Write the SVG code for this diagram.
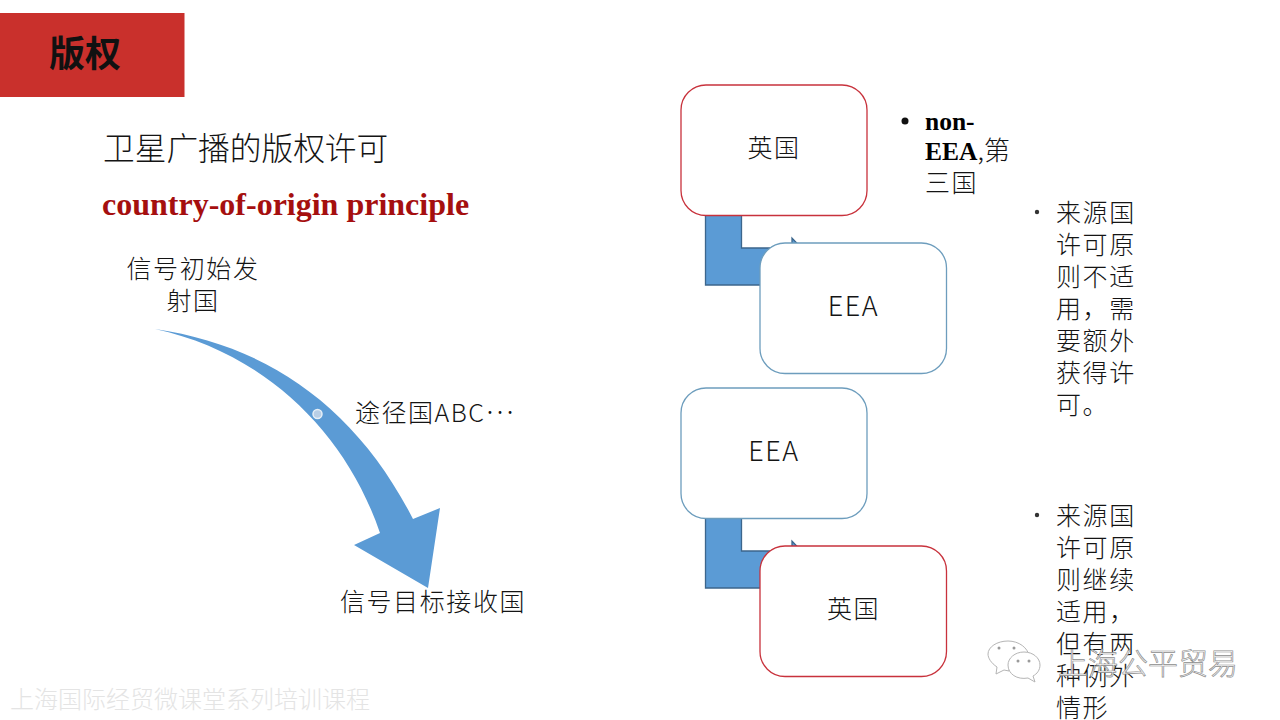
<svg xmlns="http://www.w3.org/2000/svg" width="1280" height="720" viewBox="0 0 1280 720">
  <style>
    text { font-family: "Noto Sans CJK SC", "Noto Sans", sans-serif; fill: #141414; font-weight: 300; }
    .body { font-size: 25px; letter-spacing: 1.6px; }
    .label { font-size: 25px; text-anchor: middle; letter-spacing: 1.6px; }
    .eea { font-size: 27px; }
    .serif { font-family: "Liberation Serif", "Noto Sans CJK SC", serif; font-weight: 700; fill: #000; }
    .box { fill: #fff; stroke-width: 1.3; }
    .red { stroke: #c8323c; }
    .blue { stroke: #6d9dbd; }
    .bent { fill: #5b9bd5; stroke: #3c668c; stroke-width: 1.3; }
    .mark { font-size: 30px; fill: #fff; stroke: #8c8c8c; stroke-width: .7; }
  </style>

  <!-- heading band -->
  <g id="heading">
    <rect x="0" y="13" width="184.500" height="84" fill="#c9302c"/>
    <text x="49" y="67" font-size="36" style="font-weight:700;fill:#111">版权</text>
  </g>

  <g id="intro">
    <text x="103" y="160" font-size="31.700">卫星广播的版权许可</text>
    <text x="102" y="215" font-size="32" class="serif" style="fill:#a50f0f">country-of-origin principle</text>
  </g>

  <!-- signal path, left side -->
  <g id="connectors">
    <path id="signal-arrow" fill="#5b9bd5" d="M155,329 C265,345 355,405 413,519 L440,508 L428,588 L354,545 L380,533 C345,430 262,352 155,329 Z"/>
    <circle cx="317.500" cy="414" r="4.500" fill="#b9cfe6" stroke="#e6eff7" stroke-width="1.500"/>
    <path id="bent-upper" class="bent" d="M705.500,215 H741.500 V248 H792 V238 L815,262 L792,285 H705.500 Z"/>
    <path id="bent-lower" class="bent" d="M705.500,518 H741.500 V551 H792 V541 L815,565 L792,588 H705.500 Z"/>
  </g>

  <g id="origin">
    <text x="193" y="278" class="label">信号初始发</text>
    <text x="193" y="310" class="label">射国</text>
  </g>
  <g id="transit"><text x="355" y="422" class="body" style="letter-spacing:1.5px">途径国ABC<tspan dy="-8" font-size="27">…</tspan></text></g>
  <g id="target"><text x="433" y="611" class="label">信号目标接收国</text></g>

  <g id="node-uk-top">
    <rect class="box red" x="681" y="85" width="186" height="130.500" rx="25"/>
    <text x="774" y="157" class="label">英国</text>
  </g>
  <g id="node-eea-top">
    <rect class="box blue" x="760" y="243" width="186.500" height="130.500" rx="25"/>
    <text x="853.500" y="316" class="label eea">EEA</text>
  </g>
  <g id="node-eea-bottom">
    <rect class="box blue" x="681" y="388" width="186" height="130.500" rx="25"/>
    <text x="774" y="461" class="label eea">EEA</text>
  </g>
  <g id="node-uk-bottom">
    <rect class="box red" x="760" y="546" width="186.500" height="130.500" rx="25"/>
    <text x="853.500" y="618" class="label">英国</text>
  </g>

  <!-- notes beside the boxes -->
  <g id="note-third-country">
    <circle cx="905" cy="121" r="3.500" fill="#111"/>
    <text x="925" y="130" font-size="25.500" class="serif">non-</text>
    <text x="925" y="160" font-size="25.500" class="serif">EEA<tspan style="font-family:'Noto Sans CJK SC',sans-serif;font-weight:300;fill:#141414" font-size="26">,第</tspan></text>
    <text x="925" y="192" class="body">三国</text>
  </g>
  <g id="note-not-applicable">
    <circle cx="1037" cy="212" r="2.200" fill="#333"/>
    <text class="body" x="1056" y="222">来源国</text>
    <text class="body" x="1056" y="254">许可原</text>
    <text class="body" x="1056" y="286">则不适</text>
    <text class="body" x="1056" y="318">用，需</text>
    <text class="body" x="1056" y="350">要额外</text>
    <text class="body" x="1056" y="382">获得许</text>
    <text class="body" x="1056" y="414">可。</text>
  </g>
  <g id="note-still-applicable">
    <circle cx="1037" cy="515" r="2.200" fill="#333"/>
    <text class="body" x="1056" y="525">来源国</text>
    <text class="body" x="1056" y="557">许可原</text>
    <text class="body" x="1056" y="589">则继续</text>
    <text class="body" x="1056" y="621">适用，</text>
    <text class="body" x="1056" y="653">但有两</text>
    <text class="body" x="1056" y="685">种例外</text>
    <text class="body" x="1056" y="717">情形</text>
  </g>

  <!-- footer line and account mark -->
  <g id="footer">
    <text x="10" y="708" font-size="24" style="fill:#e4e4e4">上海国际经贸微课堂系列培训课程</text>
  </g>
  <g id="account-mark">
    <g fill="#fff" stroke="#b5b5b5" stroke-width="1">
      <path d="M1008,641 C1019,641 1028,648 1029,656 C1020,654 1009,662 1009,671 L1004,670 L996,674 L997,667 C991,663 988,658 988,654 C988,647 997,641 1008,641 Z"/>
      <path d="M1024,652 C1033,652 1040,658 1040,665 C1040,670 1037,674 1033,676 L1035,682 L1028,678 C1017,680 1008,674 1008,665 C1008,658 1015,652 1024,652 Z"/>
    </g>
    <g fill="#9a9a9a">
      <circle cx="999" cy="648" r="1.500"/><circle cx="1014" cy="648" r="1.500"/>
      <circle cx="1018" cy="661" r="1.500"/><circle cx="1029" cy="661" r="1.500"/>
    </g>
    <text x="1058" y="674" class="mark">上海公平贸易</text>
  </g>
</svg>
